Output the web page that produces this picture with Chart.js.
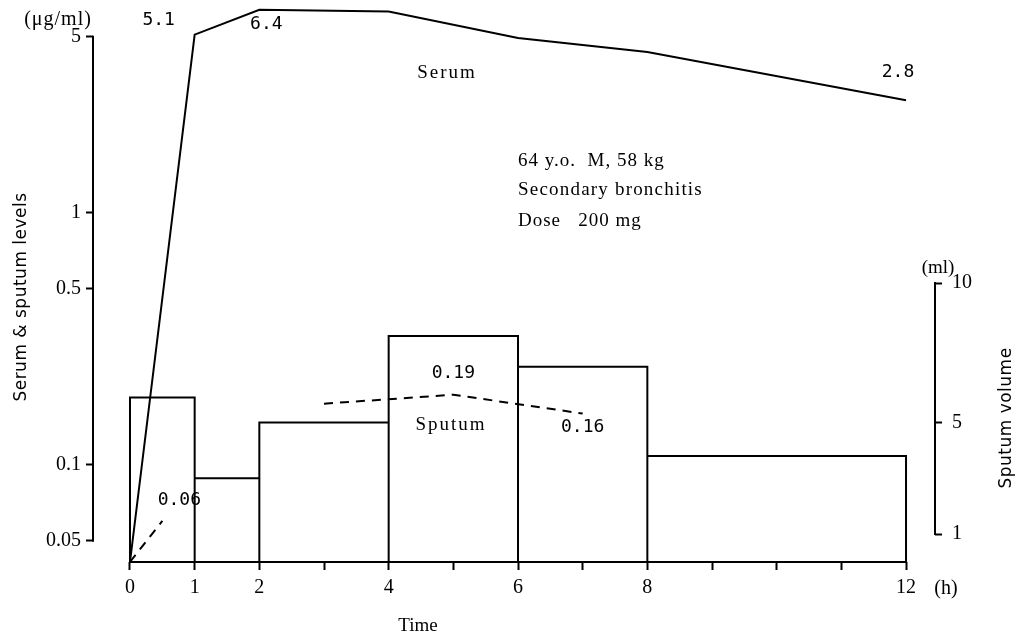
<!DOCTYPE html>
<html>
<head>
<meta charset="utf-8">
<script src="https://cdn.jsdelivr.net/npm/chart.js@4.4.1/dist/chart.umd.min.js"></script>
<style>
  html, body { margin: 0; padding: 0; background: #fff; }
  #wrap { width: 1016px; height: 636px; }
</style>
</head>
<body>
<div id="wrap"><canvas id="c" width="1016" height="636"></canvas></div>
<script>
// Serum concentration (µg/ml) at each sampling time (h); 0 = pre-dose
const serumTimes = [0, 1, 2, 4, 6, 8, 12];
const serumLevels = [0, 5.1, 6.4, 6.3, 4.95, 4.35, 2.8];

// Sputum concentration (µg/ml) at collection mid-points; null = not detected
const sputumTimes = [0, 0.5, 1.5, 3, 5, 7];
const sputumLevels = [0, 0.06, null, 0.175, 0.19, 0.16];

// Sputum collection intervals (h) and the volume collected in each (ml)
const collectionEdges = [0, 1, 2, 4, 6, 8, 12];
const sputumVolumes = [5.9, 3.0, 5.0, 8.1, 7.0, 3.8];

// Axis ticks
const timeTicks = [0, 1, 2, 3, 4, 5, 6, 7, 8, 9, 10, 11, 12];
const timeTickLabels = [0, 1, 2, 4, 6, 8, 12];
const levelTicks = [0.05, 0.1, 0.5, 1, 5];
const volumeTicks = [1, 5, 10];

// Bottom of the log axis; pre-dose zeros are plotted on it
const LEVEL_FLOOR = 0.0412;

const INK = '#000';
const SERIF = '"Liberation Serif", "DejaVu Serif", serif';
const MONO = '"DejaVu Sans Mono", "Liberation Mono", monospace';
const SANS = '"DejaVu Sans", "Liberation Sans", sans-serif';

const levelPoints = (xs, ys) => xs.map((x, i) => ({ x: x, y: ys[i] === 0 ? LEVEL_FLOOR : ys[i] }));

// Each collection interval is drawn as an open box standing on the time axis
const volumeBoxes = [];
sputumVolumes.forEach((v, i) => {
  const a = collectionEdges[i], b = collectionEdges[i + 1];
  volumeBoxes.push({ x: a, y: 0 }, { x: a, y: v }, { x: b, y: v }, { x: b, y: 0 });
});

// Hand-drawn style axes, captions and value labels
const decorations = {
  id: 'decorations',
  afterDraw(chart) {
    const { ctx, chartArea } = chart;
    const sx = chart.scales.x, sy = chart.scales.y, sv = chart.scales.y2;
    ctx.save();
    ctx.strokeStyle = INK;
    ctx.fillStyle = INK;
    ctx.lineWidth = 2;
    ctx.lineCap = 'square';

    // axis spines, limited to the labelled ranges
    ctx.beginPath();
    ctx.moveTo(chartArea.left, sy.getPixelForValue(levelTicks[0]));
    ctx.lineTo(chartArea.left, sy.getPixelForValue(levelTicks[levelTicks.length - 1]));
    ctx.moveTo(chartArea.right, sv.getPixelForValue(volumeTicks[0]));
    ctx.lineTo(chartArea.right, sv.getPixelForValue(volumeTicks[volumeTicks.length - 1]));
    ctx.moveTo(sx.getPixelForValue(timeTicks[0]), chartArea.bottom);
    ctx.lineTo(sx.getPixelForValue(timeTicks[timeTicks.length - 1]), chartArea.bottom);
    ctx.stroke();

    const text = (str, x, y, font, align, spacing) => {
      ctx.font = font;
      ctx.letterSpacing = spacing || '0px';
      ctx.textAlign = align || 'center';
      ctx.textBaseline = 'middle';
      ctx.fillText(str, x, y);
    };

    // units and axis titles
    text('(\u03bcg/ml)', 58, 20, '20px ' + SERIF, 'center', '1px');
    text('(ml)', 938, 268, '19px ' + SERIF);
    text('(h)', 946, 589, '20px ' + SERIF);
    text('Time', 418, 626, '19px ' + SERIF);

    ctx.save();
    ctx.translate(22, 297);
    ctx.rotate(-Math.PI / 2);
    text('Serum & sputum levels', 0, 0, '17px ' + SANS, 'center', '0.5px');
    ctx.restore();

    ctx.save();
    ctx.translate(1007, 418);
    ctx.rotate(-Math.PI / 2);
    text('Sputum volume', 0, 0, '17px ' + SANS, 'center', '0.5px');
    ctx.restore();

    // value labels next to the points they describe
    const lab = (t, v, dx, dy) => {
      text(String(v), sx.getPixelForValue(t) + dx, sy.getPixelForValue(v) + dy, '18px ' + MONO);
    };
    lab(serumTimes[1], serumLevels[1], -36, -14);
    lab(serumTimes[2], serumLevels[2], 7, 15);
    lab(serumTimes[6], serumLevels[6], -8, -28);
    lab(sputumTimes[1], sputumLevels[1], 17, -21);
    lab(sputumTimes[4], sputumLevels[4], 0, -21);
    lab(sputumTimes[5], sputumLevels[5], 0, 14);

    // series names
    text('Serum', 447, 73, '19px ' + SERIF, 'center', '2px');
    text('Sputum', 451, 425, '19px ' + SERIF, 'center', '2px');

    // case notes
    text('64 y.o.  M, 58 kg', 518, 161, '19px ' + SERIF, 'left', '1px');
    text('Secondary bronchitis', 518, 190, '19px ' + SERIF, 'left', '1.2px');
    text('Dose   200 mg', 518, 221, '19px ' + SERIF, 'left', '1px');
    ctx.restore();
  }
};

const tickGrid = len => ({
  drawOnChartArea: false,
  drawTicks: true,
  tickLength: len,
  tickWidth: 2,
  tickColor: INK
});

const fixHeight = h => s => { s.height = h; s.paddingLeft = 0; s.paddingRight = 0; };
const fixWidth = w => s => { s.width = w; s.paddingTop = 0; s.paddingBottom = 0; };

new Chart(document.getElementById('c'), {
  type: 'line',
  data: {
    datasets: [
      {
        label: 'Serum',
        data: levelPoints(serumTimes, serumLevels),
        yAxisID: 'y',
        borderColor: INK,
        borderWidth: 2,
        pointRadius: 0,
        tension: 0,
        clip: false
      },
      {
        label: 'Sputum',
        data: levelPoints(sputumTimes, sputumLevels),
        yAxisID: 'y',
        borderColor: INK,
        borderWidth: 2,
        borderDash: [9, 7],
        pointRadius: 0,
        spanGaps: false,
        tension: 0,
        clip: false
      },
      {
        label: 'Sputum volume',
        data: volumeBoxes,
        yAxisID: 'y2',
        borderColor: INK,
        borderWidth: 2,
        pointRadius: 0,
        tension: 0,
        clip: false
      }
    ]
  },
  options: {
    responsive: false,
    animation: false,
    devicePixelRatio: 1,
    layout: { padding: { top: 4, left: 0, right: 0, bottom: 0 } },
    plugins: { legend: { display: false }, tooltip: { enabled: false } },
    scales: {
      x: {
        type: 'linear',
        position: 'bottom',
        min: -0.572,
        max: 12.448,
        afterBuildTicks: s => { s.ticks = timeTicks.map(v => ({ value: v })); },
        afterFit: fixHeight(74),
        border: { display: false },
        grid: tickGrid(8),
        ticks: {
          autoSkip: false,
          maxRotation: 0,
          padding: 6,
          color: INK,
          font: { family: SERIF, size: 20 },
          callback: v => (timeTickLabels.includes(v) ? String(v) : '')
        }
      },
      y: {
        type: 'logarithmic',
        position: 'left',
        min: LEVEL_FLOOR,
        max: 6.75,
        afterBuildTicks: s => { s.ticks = levelTicks.map(v => ({ value: v })); },
        afterFit: fixWidth(93),
        border: { display: false },
        grid: tickGrid(7),
        ticks: {
          padding: 5,
          color: INK,
          font: { family: SERIF, size: 20 },
          callback: v => String(v)
        }
      },
      y2: {
        type: 'linear',
        position: 'right',
        min: 0,
        max: 20,
        afterBuildTicks: s => { s.ticks = volumeTicks.map(v => ({ value: v })); },
        afterFit: fixWidth(81),
        border: { display: false },
        grid: tickGrid(7),
        ticks: {
          padding: 10,
          color: INK,
          font: { family: SERIF, size: 20 },
          callback: v => String(v)
        }
      }
    }
  },
  plugins: [decorations]
});
</script>
</body>
</html>
